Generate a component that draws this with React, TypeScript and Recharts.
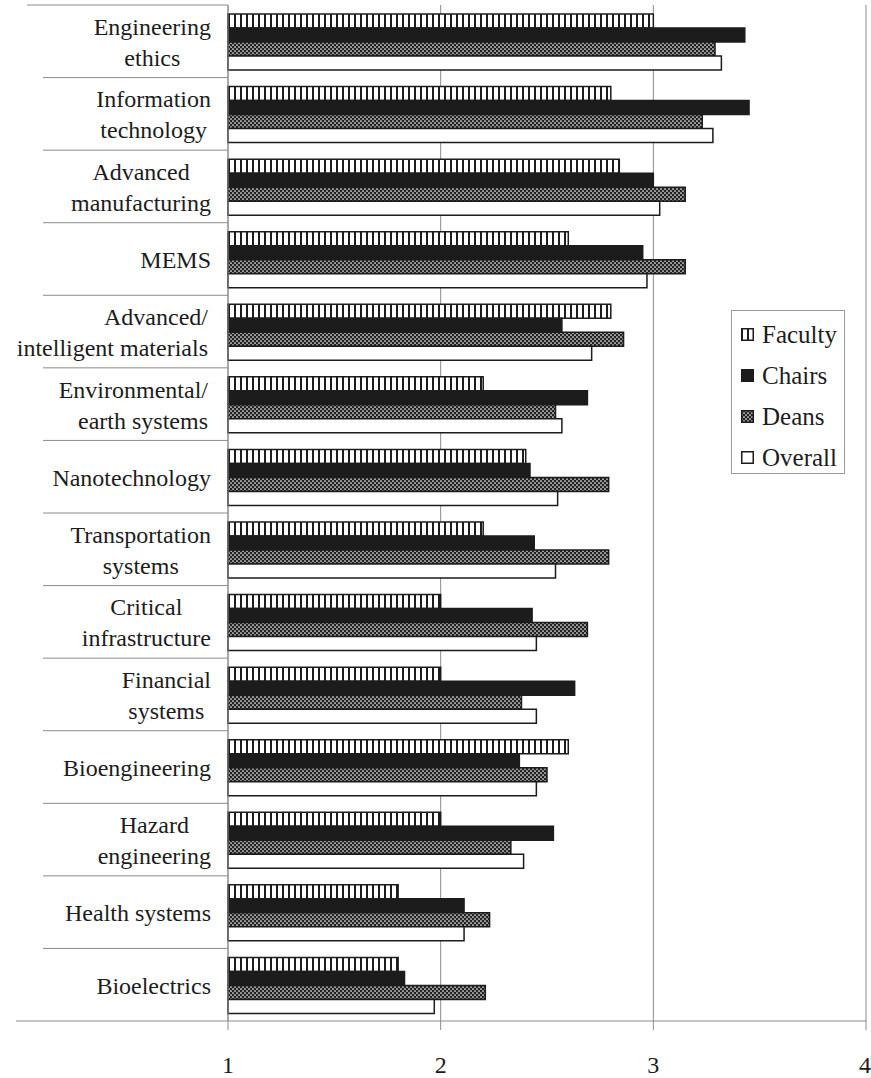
import React from 'react';
import { BarChart, Bar, XAxis, YAxis, CartesianGrid, Legend } from 'recharts';

// Mean ratings on a 1–4 scale, one value per research area
const categories = [
  'Engineering\nethics',
  'Information\ntechnology',
  'Advanced\nmanufacturing',
  'MEMS',
  'Advanced/\nintelligent materials',
  'Environmental/\nearth systems',
  'Nanotechnology',
  'Transportation\nsystems',
  'Critical\ninfrastructure',
  'Financial\nsystems',
  'Bioengineering',
  'Hazard\nengineering',
  'Health systems',
  'Bioelectrics',
];

const faculty = [3.0, 2.8, 2.84, 2.6, 2.8, 2.2, 2.4, 2.2, 2.0, 2.0, 2.6, 2.0, 1.8, 1.8];
const chairs = [3.43, 3.45, 3.0, 2.95, 2.57, 2.69, 2.42, 2.44, 2.43, 2.63, 2.37, 2.53, 2.11, 1.83];
const deans = [3.29, 3.23, 3.15, 3.15, 2.86, 2.54, 2.79, 2.79, 2.69, 2.38, 2.5, 2.33, 2.23, 2.21];
const overall = [3.32, 3.28, 3.03, 2.97, 2.71, 2.57, 2.55, 2.54, 2.45, 2.45, 2.45, 2.39, 2.11, 1.97];

const xTicks = [1, 2, 3, 4];

const data = categories.map((name, i) => ({
  name,
  Faculty: faculty[i],
  Chairs: chairs[i],
  Deans: deans[i],
  Overall: overall[i],
}));

const FONT = "'Liberation Serif', 'Times New Roman', Times, 'DejaVu Serif', serif";
const INK = '#1c1c1c';
const RULE = '#8c8c8c';
const LABEL_SIZE = 24;
const TICK_MARGIN = 17;

const series = [
  { key: 'Faculty', fill: 'url(#facultyStripes)' },
  { key: 'Chairs', fill: INK },
  { key: 'Deans', fill: 'url(#deansCheck)' },
  { key: 'Overall', fill: '#ffffff' },
];

let measureCtx: CanvasRenderingContext2D | null = null;
const measure = (s: string) => {
  if (!measureCtx) {
    measureCtx = document.createElement('canvas').getContext('2d');
  }
  if (!measureCtx) return s.length * LABEL_SIZE * 0.45;
  measureCtx.font = `${LABEL_SIZE}px ${FONT}`;
  return measureCtx.measureText(s).width;
};

// Category label: wrapped lines centred on each other, block flush to the axis,
// plus the long separator rule between categories
const CategoryTick = (props: any) => {
  const { x, y, payload, index } = props;
  const half = payload?.offset || 36.3;
  const axisX = x + TICK_MARGIN;
  const lines = String(payload.value).split('\n');
  const widths = lines.map(measure);
  const blockW = Math.max(...widths);
  const flush = lines[0].endsWith('/');
  const lineH = 31;
  const first = y - ((lines.length - 1) * lineH) / 2 + 9;
  return (
    <g>
      <line x1={index === 0 ? 27 : 43} x2={axisX} y1={y - half} y2={y - half} stroke={RULE} />
      {index === categories.length - 1 && (
        <line x1={16} x2={axisX} y1={y + half} y2={y + half} stroke={RULE} />
      )}
      {lines.map((line, i) => (
        <text
          key={i}
          x={flush ? x - 3 : x - blockW / 2}
          y={first + i * lineH}
          textAnchor={flush ? 'end' : 'middle'}
          style={{ fontFamily: FONT }}
          fontSize={LABEL_SIZE}
          fill={INK}
        >
          {line}
        </text>
      ))}
    </g>
  );
};

const LegendIcon = ({ fill }: { fill: string }) => (
  <svg width={13} height={13} style={{ display: 'block' }}>
    <rect x={0.75} y={0.75} width={11.5} height={11.5} fill={fill} stroke={INK} strokeWidth={1.5} />
  </svg>
);

const renderLegend = () => (
  <div
    style={{
      width: '100%',
      height: '100%',
      boxSizing: 'border-box',
      border: '1px solid #9a9a9a',
      padding: '3px 0 0 9px',
      background: '#fff',
    }}
  >
    {series.map((s) => (
      <div key={s.key} style={{ display: 'flex', alignItems: 'center', height: 41 }}>
        <LegendIcon fill={s.fill} />
        <span style={{ marginLeft: 8, fontSize: 25, fontFamily: FONT, color: INK, lineHeight: '41px' }}>
          {s.key}
        </span>
      </div>
    ))}
  </div>
);

export default function App() {
  return (
    <div style={{ position: 'absolute', left: 0, top: 0, background: '#fff', fontFamily: FONT }}>
      <BarChart
        width={871}
        height={1078}
        data={data}
        layout="vertical"
        margin={{ top: 5, right: 5, bottom: 0, left: 0 }}
        barCategoryGap={9}
        barGap={0}
        style={{ fontFamily: FONT }}
      >
        <defs>
          <pattern id="facultyStripes" patternUnits="userSpaceOnUse" width={6} height={10}>
            <rect width={6} height={10} fill="#ffffff" />
            <rect x={0} width={2} height={10} fill={INK} />
          </pattern>
          <pattern id="deansCheck" patternUnits="userSpaceOnUse" width={4} height={4}>
            <rect width={4} height={4} fill="#222222" />
            <circle cx={1} cy={1} r={0.85} fill="#ffffff" />
            <circle cx={3} cy={3} r={0.85} fill="#ffffff" />
          </pattern>
        </defs>
        <CartesianGrid horizontal={false} stroke={RULE} />
        <XAxis
          type="number"
          domain={[1, 4]}
          ticks={xTicks}
          height={57}
          axisLine={{ stroke: RULE }}
          tickLine={{ stroke: RULE }}
          tickSize={9}
          tickMargin={26}
          tick={{ fontFamily: FONT, fontSize: 24, fill: INK }}
        />
        <YAxis
          type="category"
          dataKey="name"
          width={228}
          axisLine={{ stroke: RULE }}
          tickLine={false}
          tickSize={0}
          tickMargin={TICK_MARGIN}
          interval={0}
          tick={<CategoryTick />}
        />
        <Legend
          layout="vertical"
          align="center"
          verticalAlign="middle"
          content={renderLegend}
          wrapperStyle={{ left: 731, top: 310, width: 114, height: 164 }}
        />
        {series.map((s) => (
          <Bar
            key={s.key}
            dataKey={s.key}
            fill={s.fill}
            stroke={INK}
            strokeWidth={1.5}
            isAnimationActive={false}
          />
        ))}
      </BarChart>
    </div>
  );
}
